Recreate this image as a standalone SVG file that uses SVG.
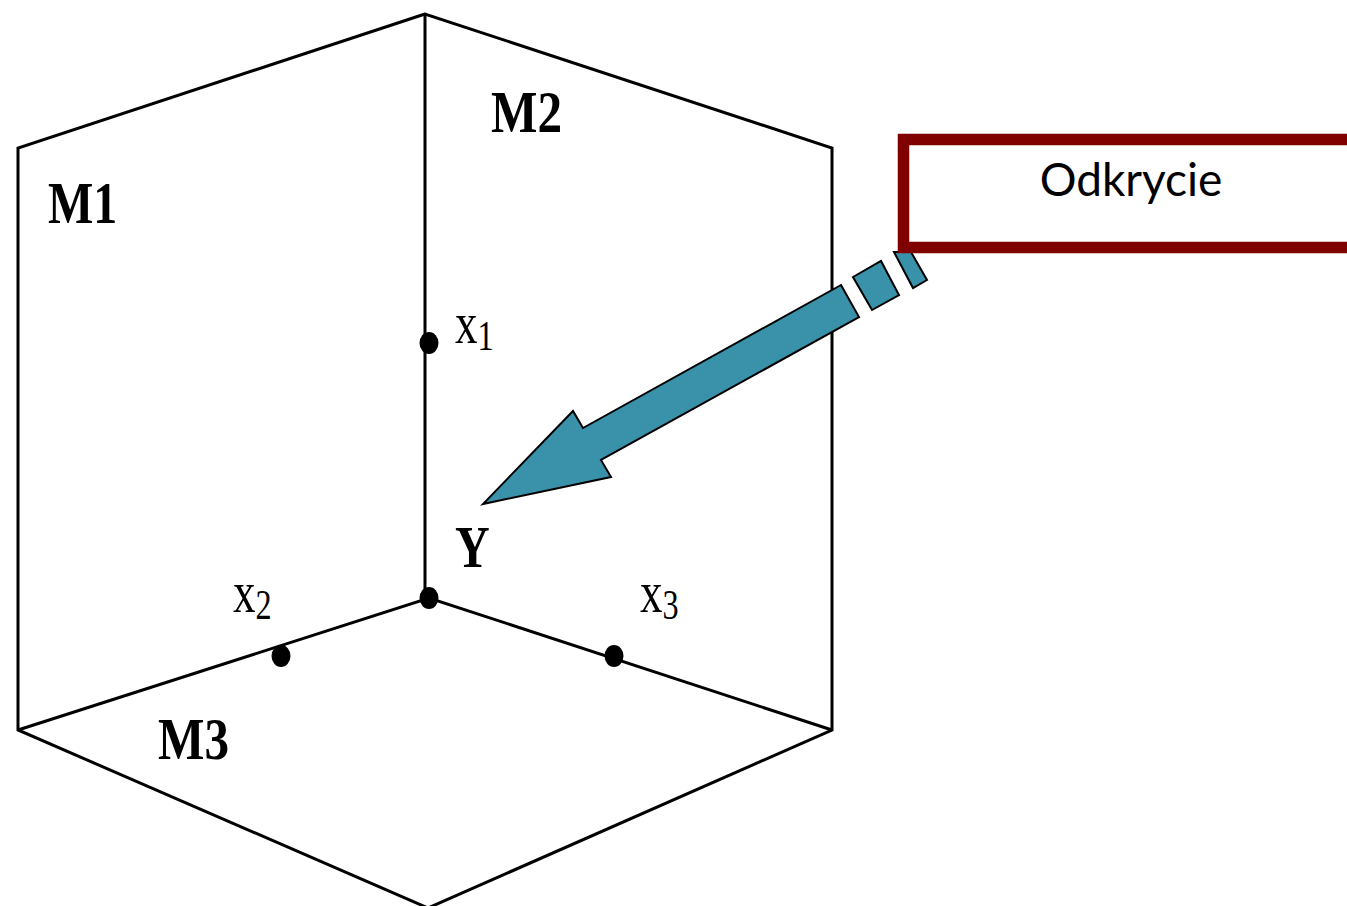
<svg xmlns="http://www.w3.org/2000/svg" width="1347" height="906" viewBox="0 0 1347 906">
<style>
.l{fill:none;stroke:#000;stroke-width:3;stroke-linejoin:miter}
.b{font-family:"Liberation Serif",serif;font-weight:bold;font-size:60px;fill:#000}
.x{font-family:"Liberation Serif",serif;font-size:60px;fill:#000}
.s{font-size:43px}
.a{fill:#3a91aa;stroke:#000;stroke-width:2;stroke-linejoin:miter}
.d{fill:#000}
</style>
<rect width="1347" height="906" fill="#fff"/>
<g id="connectors">
<path class="l" d="M425 14L18 148L18 730L428 908L832 730L832 148L425 14Z"/>
<path class="l" d="M425 14L425 598"/>
<path class="l" d="M18 730L429 598L832 730"/>
</g>
<g id="arrow">
<path class="a" d="M841 285L859 317L601 460L611 477L483 504L573 411L583 428Z"/>
<path class="a" d="M853 277L881 261L899 295L872 310Z"/>
<path class="a" d="M894 252L911 252L927 280L913 288Z"/>
</g>
<g id="odkrycie">
<rect x="903.5" y="139.5" width="460" height="108" fill="#fff" stroke="#800000" stroke-width="11.5"/>
<text x="1131" y="196" text-anchor="middle" font-family="Lato,sans-serif" font-size="46" fill="#000">Odkrycie</text>
</g>
<g id="m1"><text class="b" transform="translate(48 223) scale(.8 1)">M1</text></g>
<g id="m2"><text class="b" transform="translate(491 132) scale(.82 1)">M2</text></g>
<g id="m3"><text class="b" transform="translate(158 759) scale(.82 1)">M3</text></g>
<g id="y"><ellipse class="d" cx="429" cy="598" rx="9.5" ry="11"/><text class="b" transform="translate(455 567) scale(.8 1)">Y</text></g>
<g id="x1"><ellipse class="d" cx="429" cy="343" rx="9.5" ry="11"/><text class="x" transform="translate(455 343) scale(.75 1)">x<tspan class="s" dy="7">1</tspan></text></g>
<g id="x2"><ellipse class="d" cx="281" cy="656" rx="9.5" ry="11"/><text class="x" transform="translate(233 612) scale(.75 1)">x<tspan class="s" dy="7">2</tspan></text></g>
<g id="x3"><ellipse class="d" cx="614" cy="656" rx="9.5" ry="11"/><text class="x" transform="translate(640 612) scale(.75 1)">x<tspan class="s" dy="7">3</tspan></text></g>
</svg>
